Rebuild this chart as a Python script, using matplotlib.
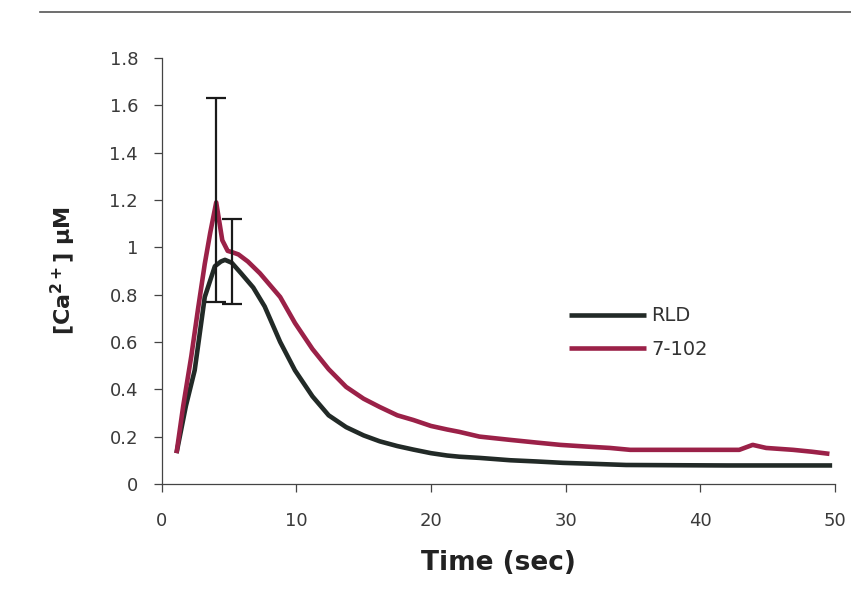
import matplotlib
matplotlib.use("Agg")
import matplotlib.pyplot as plt
from matplotlib.lines import Line2D

plt.rcParams['font.family'] = ['Liberation Sans', 'DejaVu Sans']

# Data
time_rld = [1.1, 1.8, 2.45, 3.2, 3.95, 4.4, 4.7, 5.2, 5.9, 6.8, 7.65, 8.8, 9.9, 11.2, 12.4, 13.7, 15.0, 16.2, 17.5, 18.7, 20.0, 21.2, 22.1, 23.6, 25.9, 27.8, 29.8, 32.0, 34.5, 38.0, 42.0, 46.0, 49.8]
ca_rld = [0.13, 0.33, 0.48, 0.79, 0.92, 0.94, 0.947, 0.935, 0.89, 0.83, 0.75, 0.60, 0.48, 0.37, 0.29, 0.24, 0.205, 0.18, 0.16, 0.145, 0.13, 0.12, 0.115, 0.11, 0.10, 0.095, 0.089, 0.085, 0.08, 0.079, 0.078, 0.078, 0.078]

time_7102 = [1.1, 1.6, 2.2, 2.7, 3.2, 3.6, 4.05, 4.5, 4.9, 5.2, 5.7, 6.4, 7.3, 8.2, 8.8, 9.9, 11.2, 12.4, 13.7, 15.0, 16.2, 17.5, 18.7, 20.0, 21.2, 22.1, 23.6, 25.9, 27.8, 29.6, 31.5, 33.3, 34.8, 38.0, 40.0, 42.9, 43.9, 44.9, 46.9, 48.3, 49.6]
ca_7102 = [0.13, 0.33, 0.54, 0.74, 0.93, 1.06, 1.19, 1.03, 0.985, 0.98, 0.97, 0.94, 0.89, 0.83, 0.79, 0.68, 0.57, 0.485, 0.41, 0.36, 0.325, 0.29, 0.27, 0.245, 0.23, 0.22, 0.20, 0.186, 0.175, 0.165, 0.158, 0.152, 0.144, 0.144, 0.144, 0.144, 0.165, 0.152, 0.144, 0.136, 0.127]

err_x = [4.05, 5.2]
err_y = [1.2, 0.94]
err_size = [0.43, 0.18]

x_ticks = [0, 10, 20, 30, 40, 50]
y_ticks = [0, 0.2, 0.4, 0.6, 0.8, 1.0, 1.2, 1.4, 1.6, 1.8]
y_tick_labels = ["0", "0.2", "0.4", "0.6", "0.8", "1", "1.2", "1.4", "1.6", "1.8"]

c_rld = '#222a27'
c_7102 = '#9b2148'

fig = plt.figure(figsize=(8.51, 6.11), dpi=100)
ax = fig.add_axes([0.190, 0.208, 0.791, 0.697])

for i in range(len(err_x)):
    ax.errorbar([err_x[i]], [err_y[i]], yerr=[err_size[i]], fmt='none', ecolor='#1a1a1a',
                elinewidth=1.6, capsize=7.5, capthick=1.6, zorder=4)
ax.plot(time_rld, ca_rld, color=c_rld, lw=3.3, label='RLD', solid_capstyle='butt', solid_joinstyle='round', zorder=3)
ax.plot(time_7102, ca_7102, color=c_7102, lw=3.3, label='7-102', solid_capstyle='butt', solid_joinstyle='round', zorder=3)

ax.set_xlim(0, 50)
ax.set_ylim(0, 1.8)
ax.set_xticks(x_ticks)
ax.set_yticks(y_ticks)
ax.set_yticklabels(y_tick_labels)
ax.tick_params(axis='both', direction='out', length=6, width=0.9, colors='#444444',
               labelsize=13, labelcolor='#3a3a3a')
ax.tick_params(axis='y', pad=11)
ax.tick_params(axis='x', pad=14)
for lbl in ax.get_xticklabels() + ax.get_yticklabels():
    lbl.set_family(['DejaVu Sans'])

for s in ['top', 'right']:
    ax.spines[s].set_visible(False)
for s in ['left', 'bottom']:
    ax.spines[s].set_color('#444444')
    ax.spines[s].set_linewidth(0.9)

ax.set_xlabel('Time (sec)', fontsize=19, fontweight='bold', color='#222222', family=['DejaVu Sans'])
ax.xaxis.set_label_coords(0.5, -0.155)
ax.set_ylabel('[Ca$^{\\mathbf{2+}}$] \u03bcM', fontsize=16, fontweight='bold', color='#222222', family=['DejaVu Sans'])
ax.yaxis.set_label_coords(-0.125, 0.5)

leg = ax.legend(loc='center', bbox_to_anchor=(0.708, 0.355), frameon=False,
                handlelength=4.0, handletextpad=0.25, labelspacing=0.75,
                prop={'family': ['DejaVu Sans'], 'size': 14})
for t in leg.get_texts():
    t.set_color('#333333')

fig.add_artist(Line2D([0.047, 1.0], [0.980, 0.980], color='#555555', lw=1.2))

fig.savefig('out.png', dpi=100)
